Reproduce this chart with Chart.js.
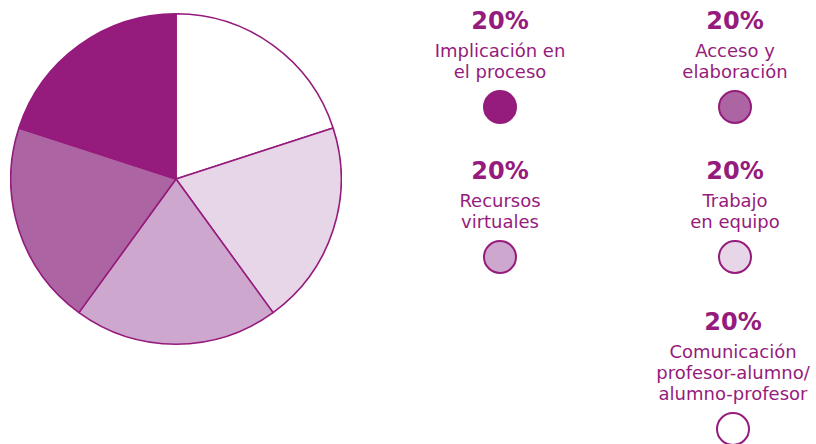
<!DOCTYPE html>
<html>
<head>
<meta charset="utf-8">
<script src="https://cdn.jsdelivr.net/npm/chart.js@4.4.0/dist/chart.umd.min.js"></script>
<style>
  html, body { margin: 0; padding: 0; background: #fff; }
  #wrap { position: relative; width: 816px; height: 444px; overflow: hidden; }
  #pieBox { position: absolute; left: 10px; top: 13px; width: 332px; height: 332px; }
  .item { position: absolute; width: 220px; text-align: center; color: #951b7c; }
  .pct { font-family: "DejaVu Sans", sans-serif; font-weight: bold; font-size: 24px; line-height: 28px; }
  .lbl { font-family: "DejaVu Sans", sans-serif; font-size: 18px; line-height: 21px; margin-top: 5px; }
  .dot { width: 30px; height: 30px; border: 2px solid #951b7c; border-radius: 50%; margin: 8px auto 0; }
</style>
</head>
<body>
<div id="wrap">
  <div id="pieBox"><canvas id="pie"></canvas></div>
</div>
<script>
  // slices, clockwise from 12 o'clock
  const labels = [
    ["Comunicación", "profesor-alumno/", "alumno-profesor"],
    ["Trabajo", "en equipo"],
    ["Recursos", "virtuales"],
    ["Acceso y", "elaboración"],
    ["Implicación en", "el proceso"],
  ];
  const values = [20, 20, 20, 20, 20];
  const colors = ["#ffffff", "#e7d5e8", "#cea7ce", "#ad64a3", "#951b7c"];
  const lineColor = "#951b7c";

  // legend order as it appears on the right (index into the arrays above)
  const legendOrder = [4, 3, 2, 1, 0];
  const legendPos = [
    [500, 7], [735, 7],
    [500, 157], [735, 157],
    [733, 308],
  ];

  new Chart(document.getElementById("pie"), {
    type: "pie",
    data: {
      labels: labels.map((l) => l.join(" ")),
      datasets: [{
        data: values,
        backgroundColor: colors,
        borderColor: lineColor,
        borderWidth: 1.6,
      }],
    },
    options: {
      responsive: true,
      maintainAspectRatio: false,
      animation: false,
      layout: { padding: 0 },
      plugins: { legend: { display: false }, tooltip: { enabled: false } },
    },
  });

  const wrap = document.getElementById("wrap");
  legendOrder.forEach((idx, i) => {
    const [cx, top] = legendPos[i];
    const el = document.createElement("div");
    el.className = "item";
    el.style.left = cx - 110 + "px";
    el.style.top = top + "px";
    el.innerHTML =
      `<div class="pct">${values[idx]}%</div>` +
      `<div class="lbl">${labels[idx].join("<br>")}</div>` +
      `<div class="dot" style="background:${colors[idx]}"></div>`;
    wrap.appendChild(el);
  });
</script>
</body>
</html>
